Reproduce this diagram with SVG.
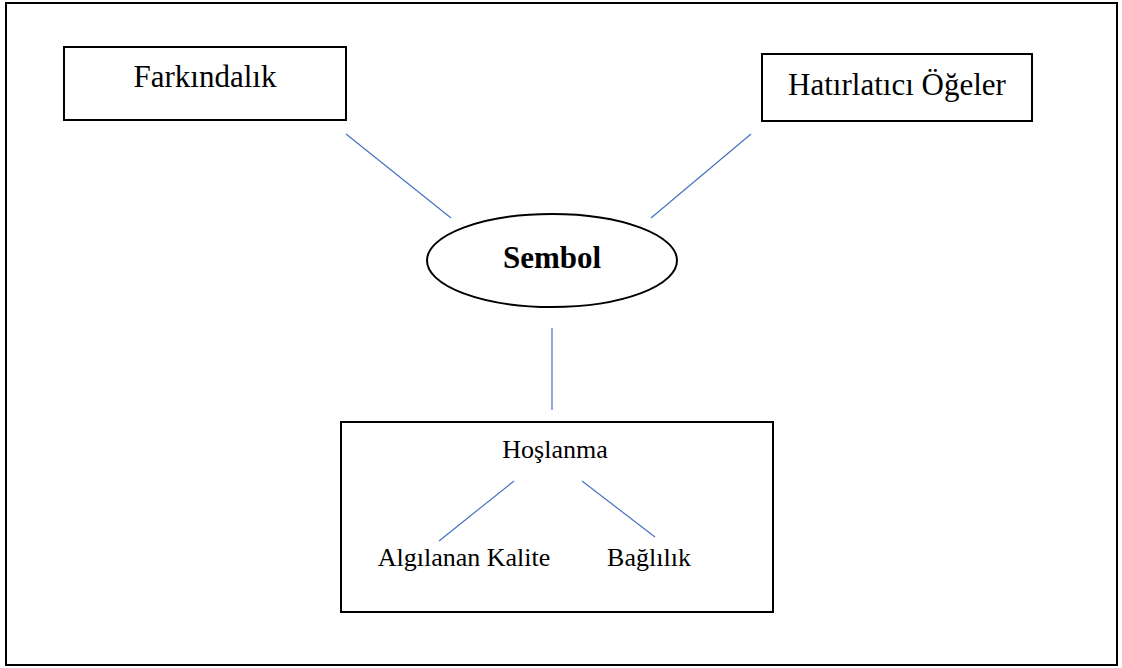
<svg xmlns="http://www.w3.org/2000/svg" width="1122" height="668" viewBox="0 0 1122 668">
<style>
.box{fill:#fff;stroke:#000;stroke-width:2}
.t{font-family:"Liberation Serif","Times New Roman",serif;fill:#000;text-anchor:middle}
.c{stroke:#4472C4;stroke-width:1.2;fill:none}
</style>
<rect width="1122" height="668" fill="#fff"/>
<rect id="frame" x="6" y="3" width="1111" height="662" fill="none" stroke="#000" stroke-width="2"/>
<g id="farkindalik">
<rect class="box" x="64" y="47" width="282" height="73"/>
<text class="t" x="205" y="87" font-size="31">Farkındalık</text>
</g>
<g id="hatirlatici">
<rect class="box" x="762" y="54" width="270" height="67"/>
<text class="t" x="897" y="95" font-size="31">Hatırlatıcı Öğeler</text>
</g>
<g id="sembol">
<ellipse class="box" cx="552" cy="260.5" rx="125" ry="46.5"/>
<text class="t" x="552" y="268" font-size="31" font-weight="bold">Sembol</text>
</g>
<g id="hoslanma">
<rect class="box" x="341" y="422" width="432" height="190"/>
<text class="t" x="555" y="458" font-size="26">Hoşlanma</text>
</g>
<g id="algilanan">
<text class="t" x="464" y="566" font-size="26">Algılanan Kalite</text>
</g>
<g id="baglilik">
<text class="t" x="649" y="566" font-size="26">Bağlılık</text>
</g>
<g id="connectors">
<line class="c" x1="346" y1="134" x2="451" y2="218"/>
<line class="c" x1="751" y1="134" x2="651" y2="218"/>
<line class="c" x1="552" y1="328" x2="552" y2="410"/>
<line class="c" x1="514" y1="481" x2="439" y2="541"/>
<line class="c" x1="582" y1="481" x2="655" y2="537"/>
</g>
</svg>
